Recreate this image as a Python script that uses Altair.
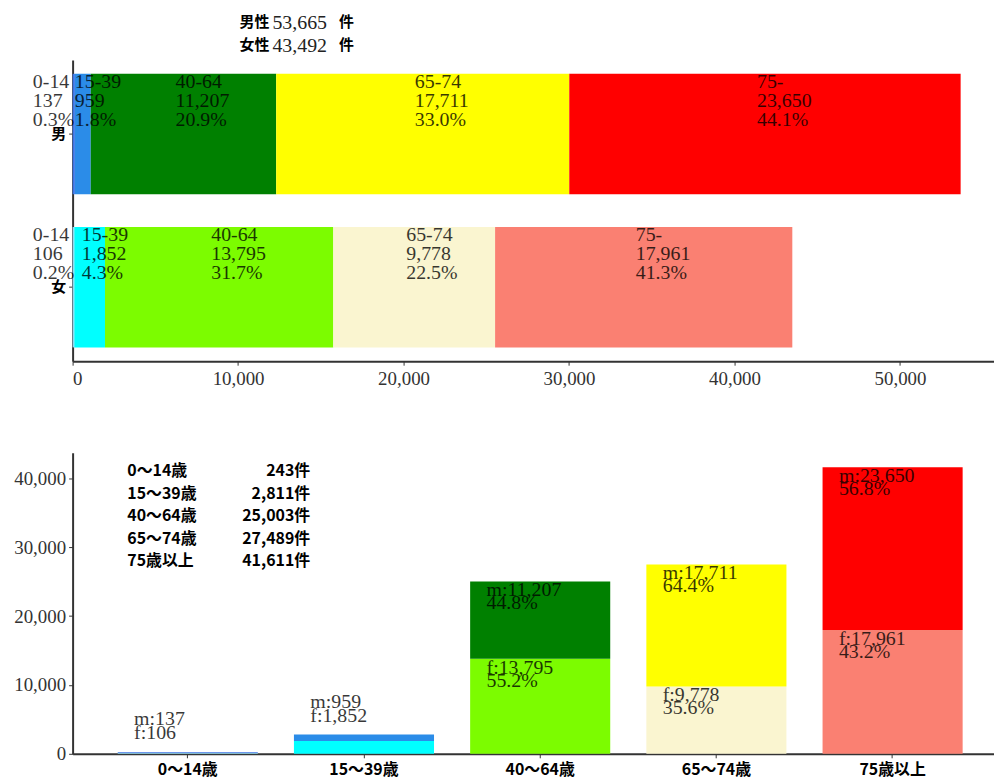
import altair as alt
import pandas as pd

# ---------------- data ----------------
ages = ["0-14", "15-39", "40-64", "65-74", "75-"]
age_jp = ["0〜14歳", "15〜39歳", "40〜64歳", "65〜74歳", "75歳以上"]
male = [137, 959, 11207, 17711, 23650]
female = [106, 1852, 13795, 9778, 17961]
sex_keys = ["男", "女"]
sex_totals = [53665, 43492]
age_totals = [243, 2811, 25003, 27489, 41611]

# ---------------- styles ----------------
male_colors = ["#3C74E6", "#2B8CE8", "#008000", "#FFFF00", "#FF0000"]
female_colors = ["#8ED8F2", "#00FFFF", "#7CFC00", "#FAF5D0", "#FA8072"]
SERIF = "Liberation Serif"
SANS = "Noto Sans CJK JP"

color_domain = [f"男{a}" for a in ages] + [f"女{a}" for a in ages]
color_range = male_colors + female_colors
cscale = alt.Scale(domain=color_domain, range=color_range)

# ---------------- top table ----------------
rows = []
for s, vals, tot in zip(sex_keys, [male, female], sex_totals):
    cum = 0
    for a, v in zip(ages, vals):
        rows.append(dict(sex=s, age=a, key=f"{s}{a}", start=cum, end=cum + v,
                         mid=cum + v / 2,
                         label=f"{a}\n{v:,}\n{v / tot * 100:.1f}%"))
        cum += v
top_df = pd.DataFrame(rows)

xs_top = alt.Scale(domain=[0, 55680], nice=False, zero=True)
ys_top = alt.Scale(domain=sex_keys, paddingInner=0.214, paddingOuter=0.09)

x_axis_top = alt.Axis(values=[0, 10000, 20000, 30000, 40000, 50000], format=",d",
                      title=None, grid=False, labelFont=SERIF, labelFontSize=19,
                      labelColor="#333", domainColor="#333", domainWidth=2,
                      tickColor="#333", tickSize=4, labelPadding=4)
y_axis_top = alt.Axis(title=None, grid=False, labelFont=SANS, labelFontWeight="bold",
                      labelFontSize=15, labelColor="black", labelAngle=0,
                      domainColor="#333", domainWidth=2, tickColor="#333",
                      tickSize=4, labelPadding=3)

base_top = alt.Chart(top_df)
top_bars = base_top.mark_bar().encode(
    x=alt.X("start:Q", scale=xs_top, axis=x_axis_top),
    x2="end:Q",
    y=alt.Y("sex:N", scale=ys_top, sort=sex_keys, axis=y_axis_top),
    color=alt.Color("key:N", scale=cscale, legend=None),
)
txt_style = dict(align="left", baseline="top", font=SERIF, fontSize=20,
                 lineHeight=19, lineBreak="\n", color="black", opacity=0.78)
top_txt_first = base_top.transform_filter(alt.datum.age == ages[0]).mark_text(
    dx=-40, dy=-62, **txt_style).encode(
    x=alt.X("start:Q", scale=xs_top),
    y=alt.Y("sex:N", scale=ys_top, sort=sex_keys),
    text="label:N")
top_txt_rest = base_top.transform_filter(alt.datum.age != ages[0]).mark_text(
    dx=-8, dy=-62, **txt_style).encode(
    x=alt.X("mid:Q", scale=xs_top),
    y=alt.Y("sex:N", scale=ys_top, sort=sex_keys),
    text="label:N")

# annotation above top panel
ann_df = pd.DataFrame(dict(name=[s + "性" for s in sex_keys],
                           num=[f"{t:,}" for t in sex_totals],
                           unit=["件", "件"]))
ann = []
for i in range(len(sex_keys)):
    d = alt.Chart(ann_df.iloc[[i]])
    yv = -38 + 23 * i
    ann.append(d.mark_text(align="left", baseline="middle", font=SANS, fontWeight="bold",
                           fontSize=15, color="black").encode(
        x=alt.value(168), y=alt.value(yv), text="name:N"))
    ann.append(d.mark_text(align="left", baseline="middle", font=SERIF,
                           fontSize=20, color="#222").encode(
        x=alt.value(201), y=alt.value(yv + 1), text="num:N"))
    ann.append(d.mark_text(align="left", baseline="middle", font=SANS, fontWeight="bold",
                           fontSize=15, color="black").encode(
        x=alt.value(268), y=alt.value(yv), text="unit:N"))

# invisible anchor fixing the top-left corner of the drawing
anchor = alt.Chart(ann_df.iloc[[0]]).mark_rect(opacity=0).encode(
    x=alt.value(-65), x2=alt.value(-64), y=alt.value(-50), y2=alt.value(-49))

top_chart = alt.layer(top_bars, top_txt_first, top_txt_rest, *ann, anchor).properties(
    width=927, height=303)

# ---------------- bottom table ----------------
brows = []
lrows = []
srows = []
for aj, a, m, f, t in zip(age_jp, ages, male, female, age_totals):
    brows.append(dict(agej=aj, key=f"女{a}", y0=0, y1=f))
    brows.append(dict(agej=aj, key=f"男{a}", y0=f, y1=f + m))
    if t > 10000:
        lrows.append(dict(agej=aj, y=f + m, text=f"m:{m:,}\n{m / t * 100:.1f}%"))
        lrows.append(dict(agej=aj, y=f, text=f"f:{f:,}\n{f / t * 100:.1f}%"))
    else:
        srows.append(dict(agej=aj, y=f + m, text=f"m:{m:,}\nf:{f:,}"))
bot_df = pd.DataFrame(brows)
lab_df = pd.DataFrame(lrows)
small_df = pd.DataFrame(srows)

xs_bot = alt.Scale(domain=age_jp, paddingInner=0.205, paddingOuter=0.217, align=0.59)
ys_bot = alt.Scale(domain=[0, 43720], nice=False, zero=True)

x_axis_bot = alt.Axis(title=None, labelAngle=0, labelFont=SANS, labelFontWeight="bold",
                      labelFontSize=16, labelColor="black", domainColor="#333",
                      domainWidth=2, tickColor="#333", tickSize=4, labelPadding=4)
y_axis_bot = alt.Axis(values=[0, 10000, 20000, 30000, 40000], format=",d", title=None,
                      grid=False, labelFont=SERIF, labelFontSize=19, labelColor="#333",
                      domainColor="#333", domainWidth=2, tickColor="#333", tickSize=4,
                      labelPadding=3)

bot_bars = alt.Chart(bot_df).mark_bar().encode(
    x=alt.X("agej:N", scale=xs_bot, sort=age_jp, axis=x_axis_bot),
    y=alt.Y("y0:Q", scale=ys_bot, axis=y_axis_bot),
    y2="y1:Q",
    color=alt.Color("key:N", scale=cscale, legend=None),
)
bl_style = dict(align="left", baseline="top", font=SERIF, fontSize=20, lineHeight=13,
                lineBreak="\n", color="black", opacity=0.78, dx=-54)
bot_lab = alt.Chart(lab_df).mark_text(dy=-1, **bl_style).encode(
    x=alt.X("agej:N", scale=xs_bot, sort=age_jp),
    y=alt.Y("y:Q", scale=ys_bot),
    text="text:N")
bot_small = alt.Chart(small_df).mark_text(dy=-43, **{**bl_style, "lineHeight": 14}).encode(
    x=alt.X("agej:N", scale=xs_bot, sort=age_jp),
    y=alt.Y("y:Q", scale=ys_bot),
    text="text:N")

leg_df = pd.DataFrame(dict(left=["\n".join(age_jp)],
                           right=["\n".join(f"{t:,}件" for t in age_totals)]))
leg_left = alt.Chart(leg_df).mark_text(align="left", baseline="top", font=SANS,
                                       fontWeight="bold", fontSize=16, lineHeight=22.5,
                                       lineBreak="\n", color="black").encode(
    x=alt.value(55), y=alt.value(11), text="left:N")
leg_right = alt.Chart(leg_df).mark_text(align="right", baseline="top", font=SANS,
                                        fontWeight="bold", fontSize=16, lineHeight=22.5,
                                        lineBreak="\n", color="black").encode(
    x=alt.value(239), y=alt.value(11), text="right:N")

bottom_chart = alt.layer(bot_bars, bot_lab, bot_small, leg_left, leg_right).properties(
    width=927, height=303)

chart = alt.vconcat(top_chart, bottom_chart, spacing=92, bounds="flush").properties(
    padding=0,
    background="white",
).configure_view(stroke=None)

chart.save("out.html", embed_options={"renderer": "svg", "actions": False})
